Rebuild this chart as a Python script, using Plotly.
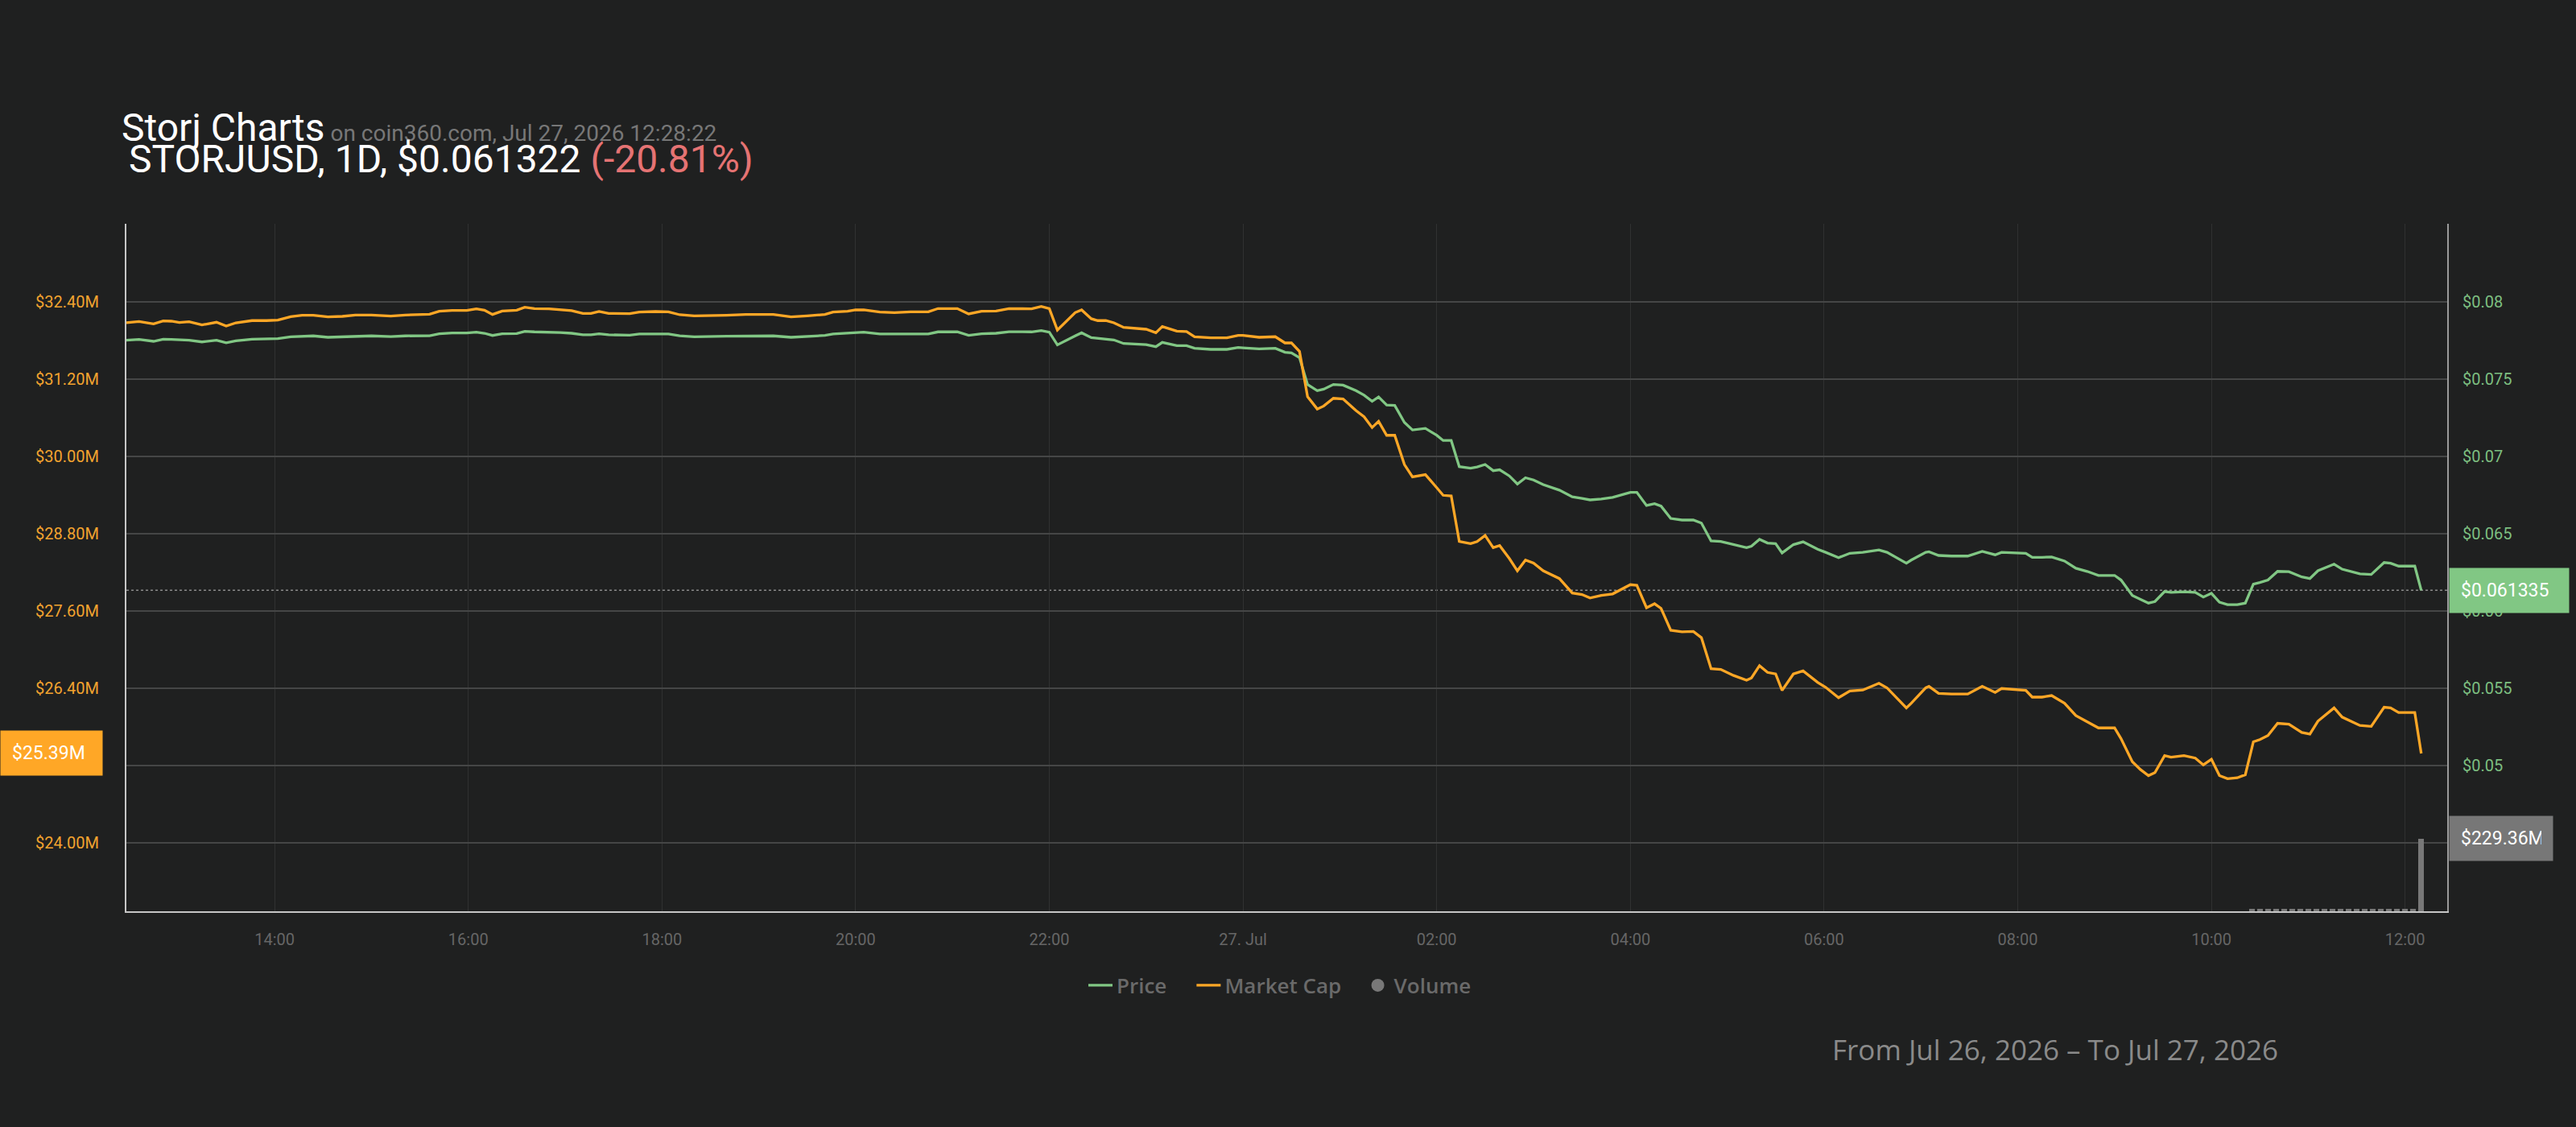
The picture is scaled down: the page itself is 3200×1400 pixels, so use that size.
import plotly.graph_objects as go

# ---------------- data ----------------
times_jul26 = [
    "12:28", "12:36", "12:45", "12:51", "12:56", "13:01", "13:07", "13:15", "13:24", "13:30",
    "13:36", "13:46", "13:55", "14:02", "14:10", "14:17", "14:24", "14:33", "14:42", "14:50",
    "15:00", "15:12", "15:21", "15:36", "15:42", "15:50", "15:59", "16:05", "16:10", "16:15",
    "16:21", "16:30", "16:35", "16:41", "16:50", "16:57", "17:04", "17:11", "17:16", "17:21",
    "17:27", "17:40", "17:46", "17:56", "18:04", "18:11", "18:20",
    "18:40", "18:52", "19:09", "19:20", "19:30", "19:41", "19:46", "19:55", "20:00", "20:05",
    "20:15", "20:24", "20:34", "20:45", "20:51", "21:03", "21:10", "21:18", "21:27", "21:35",
    "21:49", "21:55", "22:00", "22:05", "22:16", "22:20", "22:26", "22:30", "22:35", "22:40",
    "22:46", "22:55", "23:00", "23:06", "23:10", "23:19", "23:25", "23:30", "23:40", "23:50",
    "23:57",
]
times_jul27 = [
    "00:00", "00:10", "00:20", "00:26", "00:30", "00:35", "00:40", "00:46", "00:50", "00:56",
    "01:02", "01:10", "01:15", "01:20", "01:24", "01:29", "01:34", "01:40", "01:45", "01:53",
    "02:00", "02:04", "02:09", "02:14", "02:21", "02:25", "02:30", "02:35", "02:39", "02:45",
    "02:50", "02:55", "03:00", "03:06", "03:16", "03:24", "03:30", "03:35", "03:42", "03:49",
    "04:00", "04:04", "04:10", "04:15", "04:19", "04:25", "04:32", "04:39", "04:44", "04:50",
    "04:56", "05:04", "05:12", "05:15", "05:20", "05:25", "05:30", "05:34", "05:41", "05:47",
    "05:56", "06:01", "06:09", "06:16", "06:24", "06:34", "06:39", "06:51", "06:54", "07:03",
    "07:05", "07:11", "07:19", "07:29", "07:38", "07:46", "07:50", "08:05", "08:09", "08:15",
    "08:21", "08:29", "08:36", "08:43", "08:50", "09:00", "09:04", "09:11", "09:16", "09:21",
    "09:25", "09:31", "09:35", "09:43", "09:50", "09:55", "10:00", "10:05", "10:10", "10:16",
    "10:21", "10:26", "10:30", "10:35", "10:41", "10:48", "10:56", "11:01", "11:06", "11:16",
    "11:21", "11:32", "11:39", "11:47", "11:51", "11:56", "12:06", "12:10",
]

market_cap_musd = [
    32.070, 32.091, 32.054, 32.099, 32.095, 32.074, 32.087, 32.037, 32.079, 32.020,
    32.070, 32.104, 32.104, 32.112, 32.166, 32.187, 32.187, 32.162, 32.170, 32.191,
    32.191, 32.174, 32.191, 32.203, 32.249, 32.262, 32.262, 32.287, 32.266, 32.199,
    32.253, 32.266, 32.312, 32.291, 32.287, 32.270, 32.258, 32.216, 32.216, 32.245,
    32.216, 32.212, 32.237, 32.245, 32.241, 32.195, 32.178,
    32.187, 32.199, 32.199, 32.162, 32.178, 32.199, 32.237, 32.249, 32.270, 32.270,
    32.237, 32.228, 32.241, 32.241, 32.291, 32.291, 32.208, 32.249, 32.253, 32.291,
    32.287, 32.324, 32.291, 31.958, 32.228, 32.270, 32.133, 32.104, 32.104, 32.070,
    31.999, 31.983, 31.970, 31.916, 32.012, 31.941, 31.933, 31.854, 31.837, 31.837,
    31.875,
    31.875, 31.845, 31.854, 31.758, 31.758, 31.625, 30.923, 30.732, 30.779, 30.899,
    30.889, 30.708, 30.612, 30.445, 30.541, 30.325, 30.325, 29.871, 29.680, 29.714,
    29.513, 29.394, 29.384, 28.677, 28.643, 28.677, 28.772, 28.581, 28.614, 28.414,
    28.223, 28.390, 28.342, 28.223, 28.103, 27.879, 27.855, 27.802, 27.840, 27.864,
    28.008, 27.998, 27.649, 27.711, 27.640, 27.300, 27.276, 27.281, 27.186, 26.703,
    26.693, 26.598, 26.526, 26.560, 26.751, 26.646, 26.622, 26.368, 26.622, 26.670,
    26.493, 26.416, 26.254, 26.359, 26.373, 26.478, 26.407, 26.096, 26.168, 26.407,
    26.430, 26.321, 26.311, 26.311, 26.430, 26.335, 26.397, 26.368, 26.263, 26.263,
    26.287, 26.168, 25.977, 25.881, 25.785, 25.785, 25.618, 25.260, 25.140, 25.045,
    25.092, 25.355, 25.331, 25.355, 25.317, 25.212, 25.298, 25.045, 24.997, 25.011,
    25.059, 25.570, 25.604, 25.666, 25.857, 25.843, 25.714, 25.690, 25.891, 26.096,
    25.953, 25.824, 25.809, 26.106, 26.096, 26.024, 26.024, 25.390,
]

price_usd = [
    0.07750, 0.07755, 0.07743, 0.07757, 0.07755, 0.07752, 0.07750, 0.07739, 0.07750, 0.07733,
    0.07746, 0.07757, 0.07759, 0.07760, 0.07772, 0.07776, 0.07778, 0.07769, 0.07772, 0.07778,
    0.07778, 0.07774, 0.07778, 0.07779, 0.07792, 0.07797, 0.07797, 0.07802, 0.07795, 0.07781,
    0.07792, 0.07793, 0.07807, 0.07804, 0.07804, 0.07800, 0.07795, 0.07785, 0.07785, 0.07792,
    0.07785, 0.07783, 0.07790, 0.07790, 0.07790, 0.07779, 0.07772,
    0.07776, 0.07778, 0.07778, 0.07769, 0.07774, 0.07781, 0.07790, 0.07797, 0.07802, 0.07802,
    0.07790, 0.07790, 0.07790, 0.07790, 0.07804, 0.07804, 0.07781, 0.07792, 0.07795, 0.07805,
    0.07804, 0.07812, 0.07802, 0.07720, 0.07778, 0.07798, 0.07767, 0.07762, 0.07760, 0.07752,
    0.07729, 0.07726, 0.07722, 0.07708, 0.07736, 0.07715, 0.07715, 0.07698, 0.07691, 0.07691,
    0.07703,
    0.07701, 0.07694, 0.07698, 0.07672, 0.07668, 0.07637, 0.07464, 0.07424, 0.07434, 0.07464,
    0.07460, 0.07424, 0.07395, 0.07355, 0.07383, 0.07331, 0.07329, 0.07219, 0.07170, 0.07180,
    0.07136, 0.07102, 0.07102, 0.06933, 0.06923, 0.06931, 0.06947, 0.06907, 0.06913, 0.06873,
    0.06821, 0.06861, 0.06847, 0.06817, 0.06781, 0.06738, 0.06728, 0.06718, 0.06724, 0.06734,
    0.06767, 0.06767, 0.06682, 0.06694, 0.06678, 0.06598, 0.06588, 0.06588, 0.06568, 0.06453,
    0.06449, 0.06429, 0.06409, 0.06419, 0.06463, 0.06439, 0.06435, 0.06375, 0.06429, 0.06447,
    0.06399, 0.06379, 0.06345, 0.06373, 0.06379, 0.06395, 0.06379, 0.06309, 0.06329, 0.06379,
    0.06383, 0.06359, 0.06355, 0.06355, 0.06385, 0.06363, 0.06379, 0.06373, 0.06347, 0.06347,
    0.06349, 0.06323, 0.06276, 0.06256, 0.06230, 0.06230, 0.06200, 0.06100, 0.06077, 0.06051,
    0.06061, 0.06126, 0.06120, 0.06124, 0.06120, 0.06090, 0.06114, 0.06057, 0.06041, 0.06041,
    0.06051, 0.06174, 0.06184, 0.06200, 0.06256, 0.06254, 0.06220, 0.06210, 0.06260, 0.06303,
    0.06270, 0.06240, 0.06236, 0.06313, 0.06309, 0.06290, 0.06290, 0.061335,
]

volume_times_jul27 = [
    "10:25", "10:30", "10:35", "10:40", "10:45", "10:50", "10:55", "11:00", "11:05", "11:10",
    "11:15", "11:20", "11:25", "11:30", "11:35", "11:40", "11:45", "11:50", "11:55", "12:00",
    "12:05", "12:10",
]
volume_musd = [
    7.0, 7.0, 7.0, 7.0, 7.0, 7.0, 7.0, 7.0, 7.0, 7.0,
    7.0, 7.0, 7.0, 7.0, 7.0, 7.0, 7.0, 7.0, 7.0, 7.0,
    7.0, 229.36,
]

# labels hidden under the value boxes in the reference are left blank
mc_ticks = [24.0, 25.2, 26.4, 27.6, 28.8, 30.0, 31.2, 32.4, 33.6]
mc_tick_labels = ["$24.00M", "", "$26.40M", "$27.60M", "$28.80M",
                  "$30.00M", "$31.20M", "$32.40M", ""]
price_ticks = [0.045, 0.05, 0.055, 0.06, 0.065, 0.07, 0.075, 0.08]
price_tick_labels = ["", "$0.05", "$0.055", "$0.06", "$0.065", "$0.07", "$0.075", "$0.08"]
x_ticks = ["2026-07-26 14:00", "2026-07-26 16:00", "2026-07-26 18:00", "2026-07-26 20:00",
           "2026-07-26 22:00", "2026-07-27 00:00", "2026-07-27 02:00", "2026-07-27 04:00",
           "2026-07-27 06:00", "2026-07-27 08:00", "2026-07-27 10:00", "2026-07-27 12:00"]
x_tick_labels = ["14:00", "16:00", "18:00", "20:00", "22:00", "27. Jul",
                 "02:00", "04:00", "06:00", "08:00", "10:00", "12:00"]

last_price = 0.061335
last_mc = 25.39
last_volume = 229.36

# ---------------- build ----------------
times = ["2026-07-26 " + t for t in times_jul26] + ["2026-07-27 " + t for t in times_jul27]
vol_times = ["2026-07-27 " + t for t in volume_times_jul27]

BG = "#1f2020"
GREEN = "#81c784"
ORANGE = "#ffa726"
GREY = "#787878"

W, H = 3200, 1400
L, R, T, B = 157, 3040, 278, 1132
PW, PH = R - L, B - T


def px_x(px):
    return (px - L) / PW


def px_y(py):
    return (B - py) / PH


NB = "\u00a0"

fig = go.Figure()
fig.add_trace(go.Scatter(x=times, y=price_usd, yaxis="y", mode="lines", name="Price" + NB * 4,
                         line=dict(color=GREEN, width=3.3), legendrank=1))
fig.add_trace(go.Scatter(x=times, y=market_cap_musd, yaxis="y2", mode="lines",
                         name="Market Cap" + NB * 3,
                         line=dict(color=ORANGE, width=3.3), legendrank=2))
fig.add_trace(go.Bar(x=vol_times, y=volume_musd, yaxis="y3", width=210000,
                     marker=dict(color=GREY, line=dict(width=0)), showlegend=False))
fig.add_trace(go.Scatter(x=[None], y=[None], yaxis="y3", mode="markers", name="Volume",
                         marker=dict(symbol="circle", size=22, color=GREY), legendrank=3))

tickfont = dict(family="Roboto", size=20)

fig.update_layout(
    width=W, height=H,
    margin=dict(l=L, r=W - R, t=T, b=H - B, pad=0),
    paper_bgcolor=BG, plot_bgcolor=BG,
    hovermode=False,
    bargap=0,
    legend=dict(orientation="h", x=px_x(1590), xanchor="center", y=px_y(1224), yanchor="middle",
                font=dict(family="Open Sans", size=26, color="#6a6a6a", weight=600),
                bgcolor="rgba(0,0,0,0)", itemwidth=30, traceorder="normal"),
    xaxis=dict(type="date", range=["2026-07-26 12:28:10", "2026-07-27 12:26:05"],
               tickmode="array", tickvals=x_ticks, ticktext=x_tick_labels,
               showgrid=True, gridcolor="#303131", gridwidth=1,
               showline=True, linecolor="#c6c6c6", linewidth=2, zeroline=False,
               ticks="", tickfont=dict(family="Roboto", size=20, color="#666666"),
               ticklabelstandoff=16),
    yaxis=dict(side="right", range=[0.040592, 0.085026], tickmode="array",
               tickvals=price_ticks, ticktext=price_tick_labels,
               showgrid=False, zeroline=False, showline=True, linecolor="#9a9a9a", linewidth=2,
               ticks="", tickfont=dict(tickfont, color="#7dbf80"), ticklabelstandoff=13),
    yaxis2=dict(side="left", overlaying="y", range=[22.941, 33.606], tickmode="array",
                tickvals=mc_ticks, ticktext=mc_tick_labels,
                showgrid=True, gridcolor="#454646", gridwidth=1.6, zeroline=False,
                showline=True, linecolor="#c6c6c6", linewidth=2,
                ticks="", tickfont=dict(tickfont, color="#f2a32f"), ticklabelstandoff=28),
    yaxis3=dict(overlaying="y", range=[0, 2176], visible=False),
)

fig.add_shape(type="line", xref="paper", x0=0, x1=1, yref="y", y0=last_price, y1=last_price,
              line=dict(color="#8a8a8a", width=1.5, dash="dot"), layer="below")

box_font = dict(family="Roboto", size=23, color="#ffffff")
annotations = [
    dict(text="Storj Charts<span style='font-size:28px;color:#777777'> on coin360.com, Jul 27, 2026 12:28:22</span>",
         xref="paper", yref="paper", x=px_x(149), y=px_y(159), xanchor="left", yanchor="middle",
         showarrow=False, font=dict(family="Roboto", size=48, color="#ffffff")),
    dict(text="STORJUSD, 1D, $0.061322 <span style='color:#e57373'>(-20.81%)</span>",
         xref="paper", yref="paper", x=px_x(158), y=px_y(197), xanchor="left", yanchor="middle",
         showarrow=False, font=dict(family="Roboto", size=48, color="#ffffff")),
    dict(text="From Jul 26, 2026 – To Jul 27, 2026",
         xref="paper", yref="paper", x=px_x(2553), y=px_y(1303), xanchor="center", yanchor="middle",
         showarrow=False, font=dict(family="Open Sans", size=35, color="#8a8a8a")),
    dict(text="$%.6f" % last_price, xref="paper", yref="y", x=1, xshift=2, y=last_price,
         xanchor="left", yanchor="middle", showarrow=False, align="left", width=120,
         bgcolor=GREEN, borderpad=14, font=box_font),
    dict(text="$%.2fM" % last_mc, xref="paper", yref="y2", x=0, xshift=-29, y=last_mc,
         xanchor="right", yanchor="middle", showarrow=False, align="left", width=98,
         bgcolor=ORANGE, borderpad=14, font=box_font),
    dict(text="$%.2fM" % last_volume, xref="paper", yref="y3", x=1, xshift=2, y=last_volume,
         xanchor="left", yanchor="middle", showarrow=False, align="left", width=100,
         bgcolor="#777777", borderpad=14, font=box_font),
]
fig.update_layout(annotations=annotations)

fig.write_html("out.html")
